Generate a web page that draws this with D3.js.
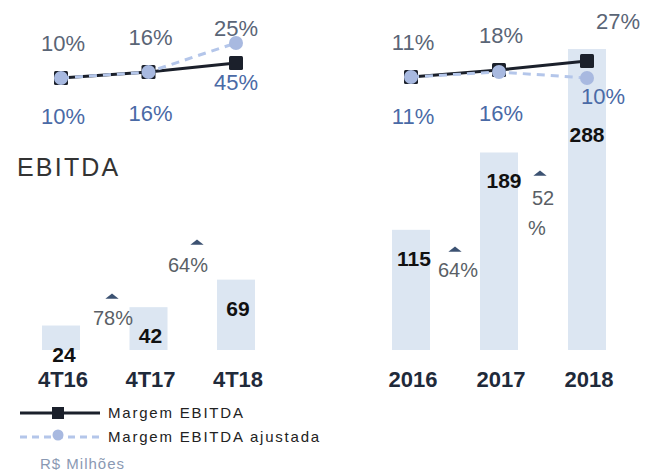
<!DOCTYPE html>
<html>
<head>
<meta charset="utf-8">
<script src="https://cdn.jsdelivr.net/npm/d3@7"></script>
<style>
  body { margin: 0; background: #fff; }
  text { font-family: "Liberation Sans", Arial, sans-serif; }
</style>
</head>
<body>
<svg id="chart" width="651" height="476"></svg>
<script>
// quarterly panel
const quarters = ["4T16", "4T17", "4T18"];
const quarterEbitda = [24, 42, 69];
const quarterMargin = [10, 16, 25];
const quarterMarginAdj = [10, 16, 45];
const quarterGrowth = ["78%", "64%"];

// annual panel
const years = ["2016", "2017", "2018"];
const yearEbitda = [115, 189, 288];
const yearMargin = [11, 18, 27];
const yearMarginAdj = [11, 16, 10];
const yearGrowth = ["64%", "52\n%"];

const svg = d3.select("#chart");

const barColor = "#dce6f2";
const lineDark = "#1b202b";
const lineLight = "#b4c6ea";
const dotLight = "#a8b9e0";
const pctTop = "#5a6576";
const pctBottom = "#4a6aa6";

/** Margin scale shared by both panels */
const yMargin = d3.scaleLinear().domain([0, 50]).range([88, 38]);
const barW = 38;

function drawPanel(cfg) {
  const g = svg.append("g");
  const x = d3.scalePoint().domain(cfg.cats).range(cfg.xRange);

  // bars
  g.selectAll("rect.bar")
    .data(cfg.ebitda)
    .join("rect")
    .attr("class", "bar")
    .attr("x", (d, i) => x(cfg.cats[i]) - barW / 2)
    .attr("y", d => cfg.yBar(d))
    .attr("width", barW)
    .attr("height", d => cfg.yBar(0) - cfg.yBar(d))
    .attr("fill", barColor);

  // bar value labels
  g.selectAll("text.val")
    .data(cfg.ebitda)
    .join("text")
    .attr("class", "val")
    .attr("x", (d, i) => x(cfg.cats[i]) + cfg.valDx[i])
    .attr("y", d => Math.max(cfg.yBar(d) + 36, 142))
    .attr("text-anchor", "middle")
    .attr("font-weight", "bold")
    .attr("font-size", 21)
    .attr("fill", "#111")
    .text(d => d);

  // category axis labels
  g.selectAll("text.cat")
    .data(cfg.cats)
    .join("text")
    .attr("class", "cat")
    .attr("x", d => x(d) + 2)
    .attr("y", 387)
    .attr("text-anchor", "middle")
    .attr("font-weight", "bold")
    .attr("font-size", 22)
    .attr("fill", "#1f2a3a")
    .text(d => d);

  // growth annotations
  cfg.growth.forEach((t, i) => {
    const p = cfg.growthPos[i];
    g.append("path")
      .attr("d", d3.symbol(d3.symbolTriangle, 45)())
      .attr("transform", `translate(${p.tx},${p.ty}) scale(1.3,0.6)`)
      .attr("fill", "#3c5272");
    const txt = g.append("text")
      .attr("x", p.x)
      .attr("y", p.y)
      .attr("text-anchor", "middle")
      .attr("font-size", 20)
      .attr("fill", "#5a5f66");
    t.split("\n").forEach((line, j) => {
      txt.append("tspan").attr("x", p.x - j * 6).attr("dy", j ? 30 : 0).text(line);
    });
  });

  // margin lines
  const line = d3.line()
    .x((d, i) => x(cfg.cats[i]))
    .y(d => yMargin(d));

  g.append("path")
    .datum(cfg.margin)
    .attr("d", line)
    .attr("fill", "none")
    .attr("stroke", lineDark)
    .attr("stroke-width", 3);
  g.selectAll("rect.sq")
    .data(cfg.margin)
    .join("rect")
    .attr("class", "sq")
    .attr("x", (d, i) => x(cfg.cats[i]) - 7)
    .attr("y", d => yMargin(d) - 7)
    .attr("width", 14)
    .attr("height", 14)
    .attr("rx", 1.5)
    .attr("fill", lineDark);

  g.append("path")
    .datum(cfg.marginAdj)
    .attr("d", line)
    .attr("fill", "none")
    .attr("stroke", lineLight)
    .attr("stroke-width", 3)
    .attr("stroke-dasharray", "8,6");
  g.selectAll("circle.dot")
    .data(cfg.marginAdj)
    .join("circle")
    .attr("class", "dot")
    .attr("cx", (d, i) => x(cfg.cats[i]))
    .attr("cy", d => yMargin(d))
    .attr("r", 7)
    .attr("fill", dotLight);

  // margin labels (dark series above)
  g.selectAll("text.mtop")
    .data(cfg.margin)
    .join("text")
    .attr("class", "mtop")
    .attr("x", (d, i) => x(cfg.cats[i]) + (i === 2 ? cfg.lastTopDx : 2))
    .attr("y", (d, i) => yMargin(d) - (i === 2 ? cfg.lastTopDy : 27))
    .attr("text-anchor", "middle")
    .attr("font-family", "Open Sans, sans-serif")
    .attr("font-size", 22)
    .attr("fill", pctTop)
    .text(d => d + "%");

  // adjusted labels (below)
  g.selectAll("text.mbot")
    .data(cfg.marginAdj)
    .join("text")
    .attr("class", "mbot")
    .attr("x", (d, i) => x(cfg.cats[i]) + (i === 2 ? cfg.lastBotDx : 2))
    .attr("y", (d, i) => i === 2 ? cfg.lastBotY : 124 - i * 3)
    .attr("text-anchor", "middle")
    .attr("font-family", "Open Sans, sans-serif")
    .attr("font-size", 22)
    .attr("fill", pctBottom)
    .text(d => d + "%");
}

drawPanel({
  cats: quarters,
  xRange: [61, 236],
  yBar: d3.scaleLinear().domain([0, 100]).range([350, 248]),
  ebitda: quarterEbitda,
  margin: quarterMargin,
  marginAdj: quarterMarginAdj,
  growth: quarterGrowth,
  growthPos: [{x: 113, y: 325, tx: 112, ty: 297}, {x: 188, y: 272, tx: 197, ty: 243}],
  valDx: [3, 2, 2],
  lastTopDx: 0, lastTopDy: 27,
  lastBotDx: 0, lastBotY: 90
});

drawPanel({
  cats: years,
  xRange: [411, 587],
  yBar: d3.scaleLinear().domain([0, 300]).range([350, 36.5]),
  ebitda: yearEbitda,
  margin: yearMargin,
  marginAdj: yearMarginAdj,
  growth: yearGrowth,
  growthPos: [{x: 458, y: 277, tx: 455, ty: 250}, {x: 543, y: 205, tx: 540, ty: 174}],
  valDx: [3, 5, 0],
  lastTopDx: 31, lastTopDy: 32,
  lastBotDx: 16, lastBotY: 104
});

// title
svg.append("text")
  .attr("x", 17)
  .attr("y", 176)
  .attr("font-size", 25)
  .attr("letter-spacing", 2.2)
  .attr("fill", "#333")
  .text("EBITDA");

// legend
const legend = svg.append("g");
legend.append("line")
  .attr("x1", 20).attr("x2", 100).attr("y1", 413).attr("y2", 413)
  .attr("stroke", lineDark).attr("stroke-width", 3);
legend.append("rect")
  .attr("x", 52).attr("y", 407).attr("width", 12).attr("height", 12)
  .attr("fill", lineDark);
legend.append("line")
  .attr("x1", 20).attr("x2", 100).attr("y1", 437).attr("y2", 437)
  .attr("stroke", lineLight).attr("stroke-width", 3)
  .attr("stroke-dasharray", "7,5");
legend.append("circle")
  .attr("cx", 58).attr("cy", 435).attr("r", 5.5)
  .attr("fill", dotLight);
legend.append("text")
  .attr("x", 108).attr("y", 418)
  .attr("font-size", 15).attr("letter-spacing", 1.8)
  .attr("fill", "#222")
  .text("Margem EBITDA");
legend.append("text")
  .attr("x", 108).attr("y", 442)
  .attr("font-size", 15).attr("letter-spacing", 1.8)
  .attr("fill", "#222")
  .text("Margem EBITDA ajustada");
svg.append("text")
  .attr("x", 40).attr("y", 469)
  .attr("font-size", 15).attr("letter-spacing", 1)
  .attr("fill", "#8a99b3")
  .text("R$ Milhões");
</script>
</body>
</html>
